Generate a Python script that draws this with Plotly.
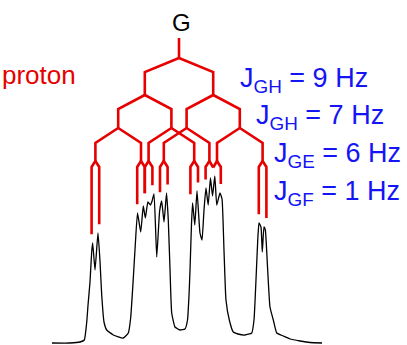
import numpy as np
import plotly.graph_objects as go

# ---- data ----
couplings_hz = [9, 7, 6, 1]          # J_GH, J_GH, J_GE, J_GF
coupling_labels = ["J<sub>GH</sub> = 9 Hz", "J<sub>GH</sub> = 7 Hz",
                   "J<sub>GE</sub> = 6 Hz", "J<sub>GF</sub> = 1 Hz"]
nucleus_label = "G"
tree_label = "proton"

spec_hz = [-16.71, -14.34, -13.03, -12.46, -12.14, -11.97, -11.71, -11.49, -11.36, -11.05,
           -10.66, -10.39, -10.17, -9.87, -9.51, -8.64, -7.33, -6.67, -6.36, -6.01,
           -5.76, -5.46, -5.04, -4.70, -4.43, -4.09, -3.75, -3.58, -3.29, -2.93,
           -2.55, -2.28, -1.97, -1.64, -1.41, -1.18, -0.96, -0.53, 0.13, 0.79,
           1.12, 1.32, 1.45, 1.64, 1.79, 2.08, 2.37, 2.76, 3.03, 3.29,
           3.55, 3.84, 4.14, 4.41, 4.71, 4.97, 5.39, 5.66, 5.92, 6.18,
           6.62, 7.14, 7.76, 8.68, 9.57, 9.87, 10.13, 10.36, 10.53, 10.79,
           10.96, 11.18, 11.36, 11.62, 11.97, 12.41, 12.86, 13.72, 14.61, 15.92,
           17.24, 18.82]
spec_int = [0, 0, 1, 3, 21, 38, 61, 91, 100, 73,
            110, 81, 48, 21, 13, 8, 5, 10, 25, 65,
            97, 130, 111, 137, 125, 141, 138, 141, 149, 86,
            132, 142, 121, 150, 123, 73, 30, 16, 13, 14,
            23, 48, 73, 118, 140, 118, 152, 110, 103, 133,
            155, 138, 165, 147, 167, 138, 150, 144, 93, 43,
            23, 11, 9, 8, 10, 23, 63, 103, 120, 116,
            91, 116, 113, 80, 36, 23, 10, 7, 4, 2,
            0.5, 0]

# ---- layout constants (pixel geometry) ----
W, H = 407, 345
PX_PER_HZ = 7.6
CENTER_PX = 179.0
BASE_PX = 343.0

def yu(py):  # pixel row -> plot units
    return BASE_PX - py

# heights of tree levels (pixel rows)
stem_top, root = yu(38), yu(58)
levels = [(yu(58), yu(72), yu(95)),
          (yu(95), yu(109), yu(128)),
          (yu(128), yu(143), yu(161)),
          (yu(161), yu(167), None)]
GAP = 9

sx = np.array(spec_hz)
sy = np.array(spec_int)

def spec_max_near(h, w=0.45):
    g = np.linspace(h - w, h + w, 41)
    return float(np.interp(g, sx, sy).max())

xs, ys = [], []
# stem
xs += [0, 0, None]
ys += [stem_top, root, None]
nodes = [0.0]
for lvl, J in enumerate(couplings_hz):
    y0, y1, y2 = levels[lvl]
    new = []
    for n in nodes:
        for s in (-1, 1):
            c = n + s * J / 2
            end = y2 if y2 is not None else spec_max_near(c) + GAP
            xs += [n, c, c, None]
            ys += [y0, y1, end, None]
            new.append(c)
    nodes = new

fig = go.Figure()
fig.add_trace(go.Scatter(x=sx, y=sy, mode="lines",
                         line=dict(color="black", width=1.3, shape="spline", smoothing=0.4),
                         hoverinfo="skip"))
fig.add_trace(go.Scatter(x=xs, y=ys, mode="lines",
                         line=dict(color="#e60000", width=2.6),
                         hoverinfo="skip"))

font = "Liberation Sans, Arial, sans-serif"
ann = [dict(text=nucleus_label, x=181 / W, y=1 - 23 / H, xanchor="center", yanchor="middle",
            font=dict(size=24, color="black", family=font)),
       dict(text=tree_label, x=0 / W, y=1 - 75 / H, xanchor="left", yanchor="middle",
            font=dict(size=26, color="#e60000", family=font))]
lab_pos = [(238, 80), (254, 117), (272, 155), (272, 193)]
for t, (px, py) in zip(coupling_labels, lab_pos):
    ann.append(dict(text=t, x=px / W, y=1 - py / H, xanchor="left", yanchor="middle",
                    font=dict(size=27, color="#1414f5", family=font)))
for a in ann:
    a.update(xref="paper", yref="paper", showarrow=False)

fig.update_layout(
    width=W, height=H, margin=dict(l=0, r=0, t=0, b=0),
    paper_bgcolor="white", plot_bgcolor="white", showlegend=False,
    xaxis=dict(range=[-CENTER_PX / PX_PER_HZ, (W - CENTER_PX) / PX_PER_HZ],
               visible=False, fixedrange=True),
    yaxis=dict(range=[BASE_PX - H, BASE_PX], visible=False, fixedrange=True),
    annotations=ann,
)
fig.write_html("out.html")
